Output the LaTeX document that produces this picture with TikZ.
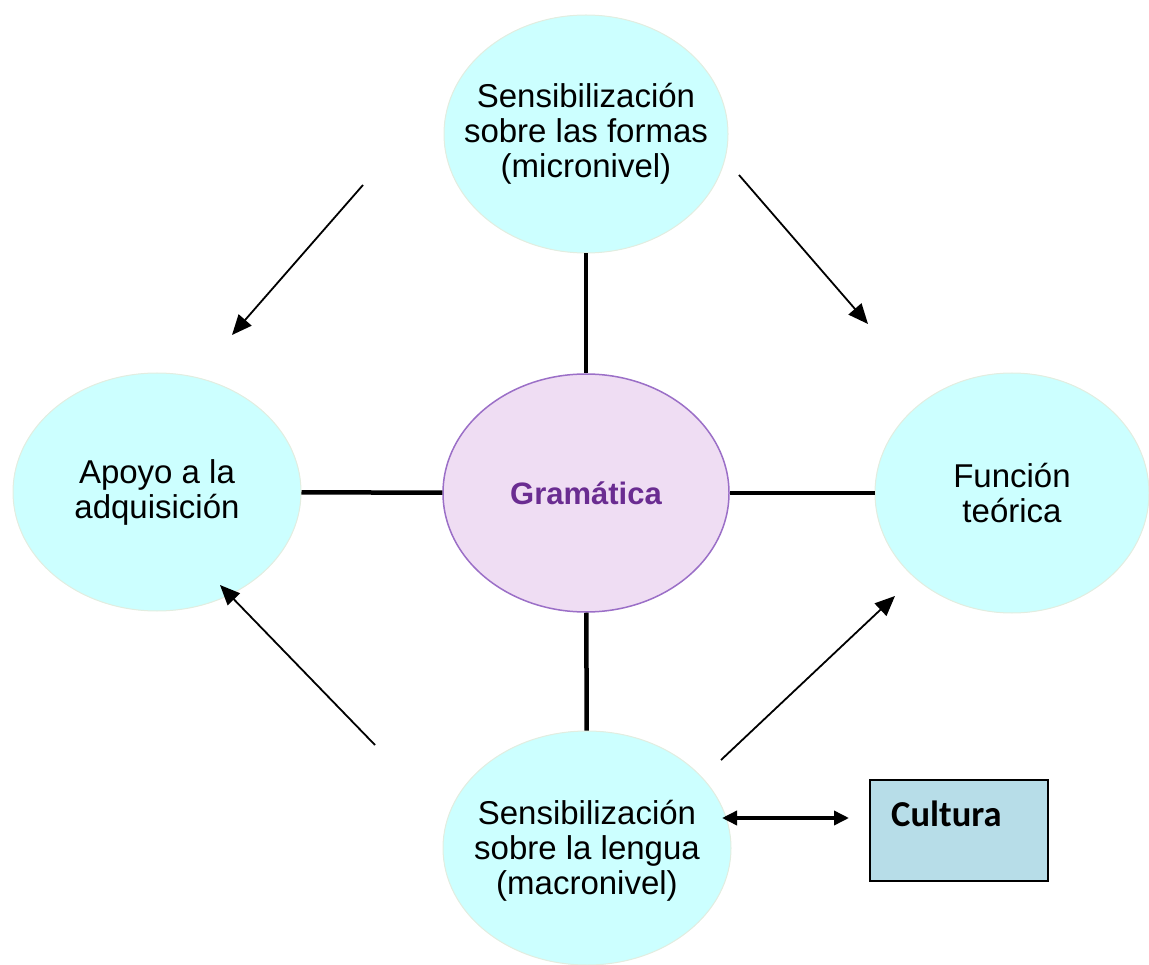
\documentclass[tikz,border=0pt]{standalone}
\usepackage{fontspec}
\setmainfont{Liberation Sans}
\newfontfamily\calibrifont{Carlito}
\usetikzlibrary{shapes.geometric,arrows.meta}
\definecolor{cyanfill}{HTML}{CCFFFF}
\definecolor{cyanedge}{HTML}{E2EDE0}
\definecolor{gramfill}{HTML}{EFDDF3}
\definecolor{gramedge}{HTML}{9B6FC7}
\definecolor{gramtext}{HTML}{6A2C91}
\definecolor{cultfill}{HTML}{B7DDE8}
\tikzset{
  bubble/.style={ellipse, fill=cyanfill, draw=cyanedge, line width=1pt, inner sep=0pt},
  bubbletext/.style={align=center, inner sep=0pt, font=\fontsize{33}{35}\selectfont},
  gram/.style={ellipse, fill=gramfill, draw=gramedge, line width=1.5pt, inner sep=0pt,
    align=center, text=gramtext, font=\fontsize{31}{35}\selectfont\bfseries},
  spoke/.style={line width=4.5pt, black},
  flow/.style={line width=1.8pt, -{Triangle[length=20pt,width=17pt]}},
  twoway/.style={line width=3.5pt, {Triangle[length=15pt,width=14pt]}-{Triangle[length=15pt,width=14pt]}},
  cultbox/.style={rectangle, fill=cultfill, draw=black, line width=1.5pt, inner sep=0pt}
}
\begin{document}
\begin{tikzpicture}[x=1pt,y=-1pt]
\useasboundingbox (0,0) rectangle (1149,965);
% nodes
\node[bubble, minimum width=284pt, minimum height=238pt,
  label={[bubbletext]center:Sensibilización\\sobre las formas\\(micronivel)}] (top) at (586,134) {};
\node[bubble, minimum width=288pt, minimum height=238pt,
  label={[bubbletext]center:Apoyo a la\\adquisición}] (left) at (157,492) {};
\node[bubble, minimum width=274pt, minimum height=240pt,
  label={[bubbletext]center:Función\\teórica}] (right) at (1012,493) {};
\node[bubble, minimum width=288pt, minimum height=234pt,
  label={[bubbletext, yshift=-3pt]center:Sensibilización\\sobre la lengua\\(macronivel)}] (bottom) at (587,848) {};
\node[gram, minimum width=286pt, minimum height=238pt] (gram) at (586,493) {Gramática};
\node[cultbox, minimum width=178pt, minimum height=101pt] (cult) at (959,830.5) {};
\node[anchor=base west, inner sep=0pt, font=\calibrifont\fontsize{36.5}{40}\selectfont\bfseries] (cultlabel) at (891,826) {Cultura};
% spokes
\draw[spoke] (top) -- (gram);
\draw[spoke] (left) -- (gram);
\draw[spoke] (gram) -- (right);
\draw[spoke] (gram) -- (bottom);
% arrow ends
\coordinate (a1s) at (363,185);
\coordinate (a1e) at (232,335);
\coordinate (a2s) at (739,175);
\coordinate (a2e) at (868,324);
\coordinate (a3s) at (375,745);
\coordinate (a3e) at (220,585);
\coordinate (a4s) at (721,760);
\coordinate (a4e) at (895,596);
\coordinate (d1) at (722,818);
\coordinate (d2) at (849,818);
\draw[flow] (a1s) -- (a1e);
\draw[flow] (a2s) -- (a2e);
\draw[flow] (a3s) -- (a3e);
\draw[flow] (a4s) -- (a4e);
\draw[twoway] (d1) -- (d2);
\end{tikzpicture}
\end{document}
